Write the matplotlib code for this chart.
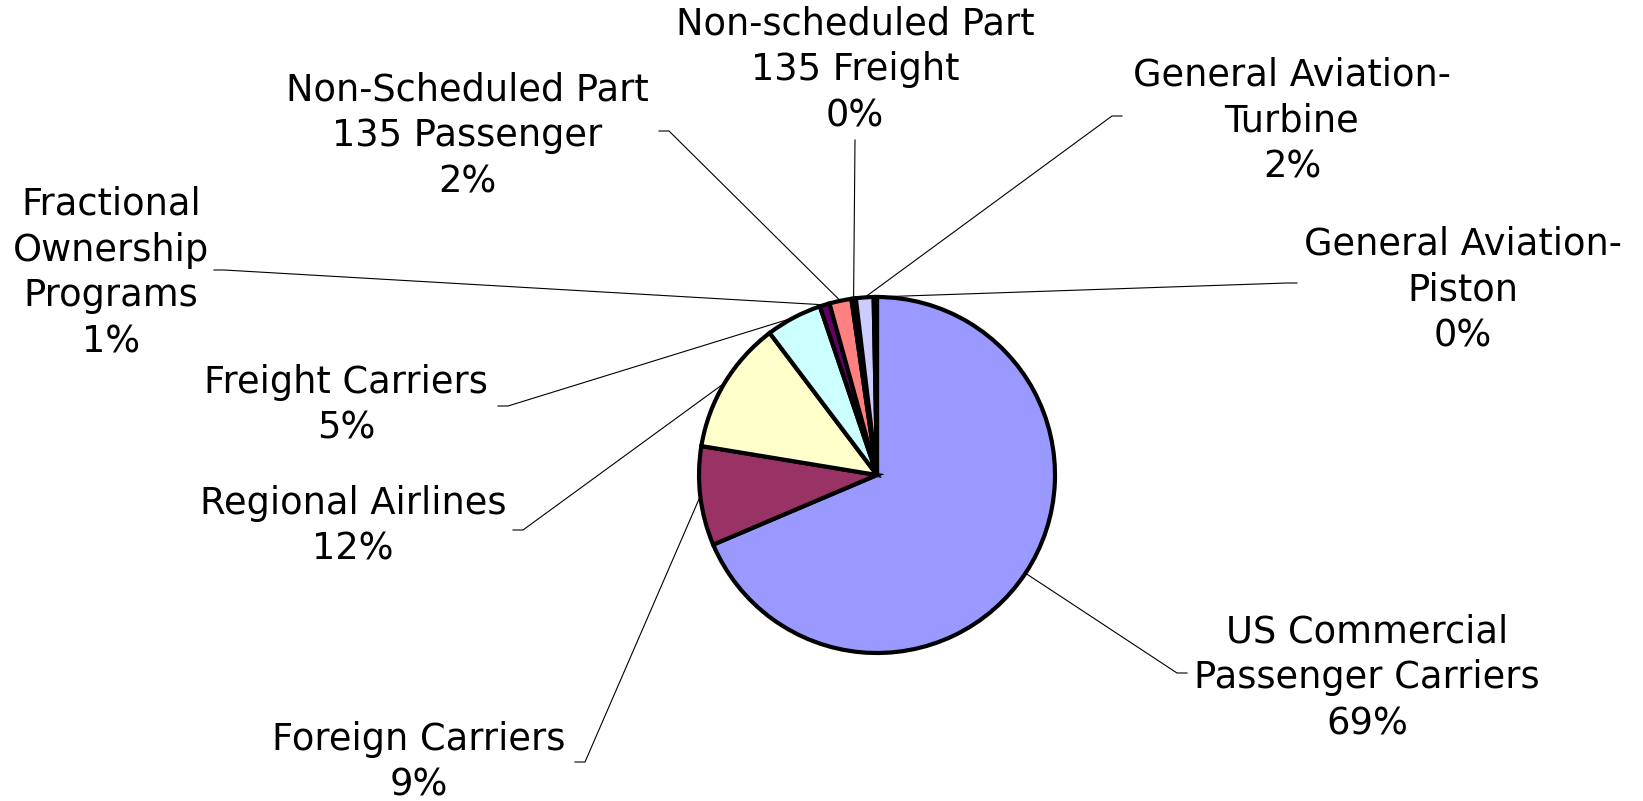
import numpy as np
import matplotlib.pyplot as plt

# Share of total by operator category (clockwise from 12 o'clock)
categories = [
    "US Commercial\nPassenger Carriers",
    "Foreign Carriers",
    "Regional Airlines",
    "Freight Carriers",
    "Fractional\nOwnership\nPrograms",
    "Non-Scheduled Part\n135 Passenger",
    "Non-scheduled Part\n135 Freight",
    "General Aviation-\nTurbine",
    "General Aviation-\nPiston",
]
shares = [68.6, 9.0, 12.1, 5.1, 0.9, 2.0, 0.4, 1.6, 0.3]
colors = ["#9999FF", "#993366", "#FFFFCC", "#CCFFFF", "#660066",
          "#FF8080", "#0066CC", "#CCCCFF", "#000080"]

W, H = 1643, 801
CX, CY, R = 877, 475, 178   # pie centre and radius in pixels (y down)

# label centre (px) and the point where its leader line leaves the label (px)
label_pos = [(1367, 678), (419, 762), (353, 526), (346, 405), (111, 273),
             (467, 136), (855, 70), (1292, 121), (1463, 290)]
leader_start = [(1187, 673), (575, 762), (513, 530), (498, 406), (214, 270),
                (659, 131), (855, 140), (1122, 116), (1297, 283)]


def to_data(p):
    return ((p[0] - CX) / R, (CY - p[1]) / R)


fig = plt.figure(figsize=(W / 100, H / 100), dpi=100)
ax = fig.add_axes([0, 0, 1, 1])

wedges, _ = ax.pie(shares, colors=colors, startangle=90, counterclock=False,
                   radius=1.0, center=(0, 0),
                   wedgeprops=dict(edgecolor="black", linewidth=3.0))
ax.set_xlim(-CX / R, (W - CX) / R)
ax.set_ylim(-(H - CY) / R, CY / R)
ax.set_aspect("equal")
ax.axis("off")

total = sum(shares)
for w, name, val, lp, ls in zip(wedges, categories, shares, label_pos, leader_start):
    ang = np.deg2rad((w.theta1 + w.theta2) / 2)
    edge = (np.cos(ang), np.sin(ang))
    sx, sy = to_data(ls)
    # short horizontal stub, then straight to the wedge edge
    if abs(sx - edge[0]) > 0.2:
        stub = 10 / R * (1 if edge[0] > sx else -1)
        ax.plot([sx, sx + stub, edge[0]], [sy, sy, edge[1]],
                color="black", lw=0.8, solid_joinstyle="miter")
    else:
        ax.plot([sx, edge[0]], [sy, edge[1]], color="black", lw=0.8)
    tx, ty = to_data(lp)
    ax.text(tx, ty, f"{name}\n{round(val / total * 100):.0f}%",
            ha="center", va="center", multialignment="center",
            fontsize=26.5, linespacing=1.3, family="DejaVu Sans")

fig.savefig("out.png", dpi=100)
